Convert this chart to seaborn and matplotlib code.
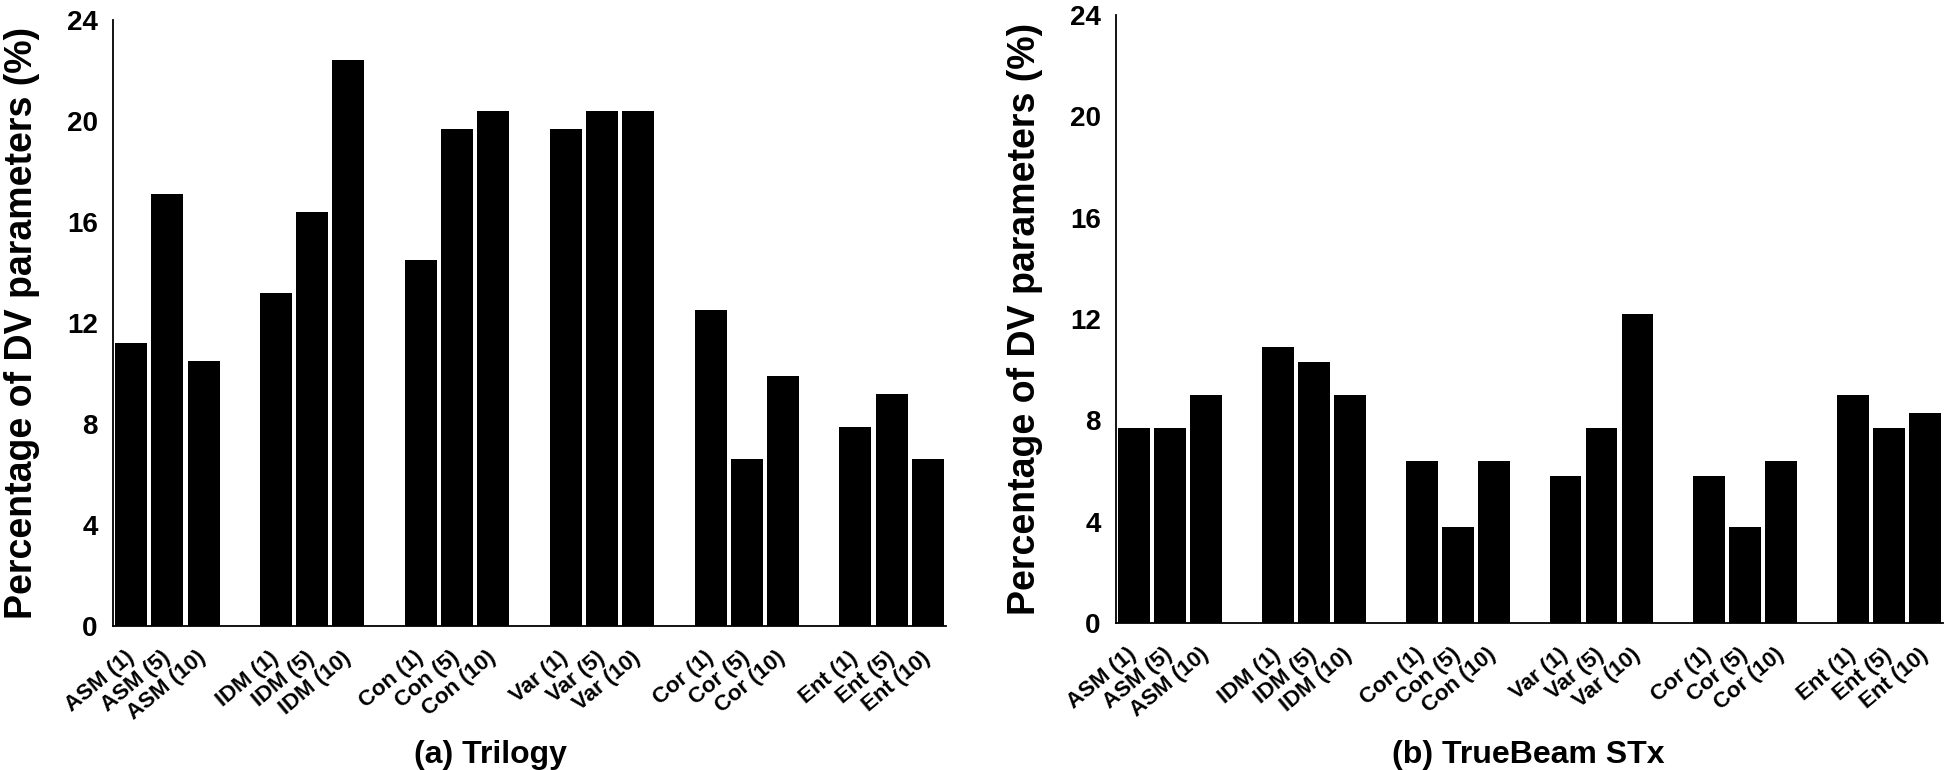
import matplotlib
matplotlib.use('Agg')
import matplotlib.pyplot as plt
import seaborn as sns
import pandas as pd

# ---- data ----
params = ['ASM', 'IDM', 'Con', 'Var', 'Cor', 'Ent']
windows = ['1', '5', '10']
trilogy = [11.2, 17.1, 10.5, 13.2, 16.4, 22.4, 14.5, 19.7, 20.4,
           19.7, 20.4, 20.4, 12.5, 6.6, 9.9, 7.9, 9.2, 6.6]
truebeam = [7.7, 7.7, 9.0, 10.9, 10.3, 9.0, 6.4, 3.8, 6.4,
            5.8, 7.7, 12.2, 5.8, 3.8, 6.4, 9.0, 7.7, 8.3]
panel_titles = ['(a) Trilogy', '(b) TrueBeam STx']
ylabel = 'Percentage of DV parameters (%)'
yticks = [0, 4, 8, 12, 16, 20, 24]

sns.set_theme(style='white')
plt.rcParams['font.family'] = ['Liberation Sans', 'DejaVu Sans']
for k in ['text.color', 'axes.labelcolor', 'xtick.color', 'ytick.color']:
    plt.rcParams[k] = 'black'

labels = [f'{p} ({w})' for p in params for w in windows]
order = []
for i, p in enumerate(params):
    order += [f'{p} ({w})' for w in windows]
    if i < len(params) - 1:
        order.append(' ' * (i + 1))   # empty spacer slot between groups

fig = plt.figure(figsize=(19.46, 7.70), dpi=100)
ax1 = fig.add_axes([0.0581, 0.187, 0.428, 0.787])
ax2 = fig.add_axes([0.5735, 0.1909, 0.425, 0.7896])

for ax, vals, title, tx in [(ax1, trilogy, panel_titles[0], 490),
                            (ax2, truebeam, panel_titles[1], 1528)]:
    df = pd.DataFrame({'label': labels, 'value': vals})
    sns.barplot(data=df, x='label', y='value', order=order, color='black',
                saturation=1, width=0.885, linewidth=0, errorbar=None, ax=ax)
    ax.set_xlim(-0.5, len(order) - 0.5)
    ax.set_ylim(0, 24)
    ax.set_yticks(yticks)
    ax.set_yticklabels([str(t) for t in yticks], fontsize=20,
                       fontweight='bold')
    ax.set_xticks(range(len(order)))
    ax.set_xticklabels([o if o.strip() else '' for o in order], rotation=40,
                       ha='right', va='center', rotation_mode='anchor',
                       fontsize=16, fontweight='bold')
    ax.tick_params(axis='x', length=0, pad=21)
    ax.tick_params(axis='y', direction='in', length=9, width=1.2, pad=11)
    for s in ['top', 'right']:
        ax.spines[s].set_visible(False)
    for s in ['left', 'bottom']:
        ax.spines[s].set_color('black')
        ax.spines[s].set_linewidth(1.3)
    ax.set_xlabel('')
    ax.set_ylabel(ylabel, fontsize=27, fontweight='bold')
    ax.yaxis.set_label_coords(-0.088, 0.5)
    fig.text(tx / 1946, 1 - 763 / 770, title, ha='center', va='baseline',
             fontsize=23, fontweight='bold')

fig.savefig('out.png', dpi=100, facecolor='white')
